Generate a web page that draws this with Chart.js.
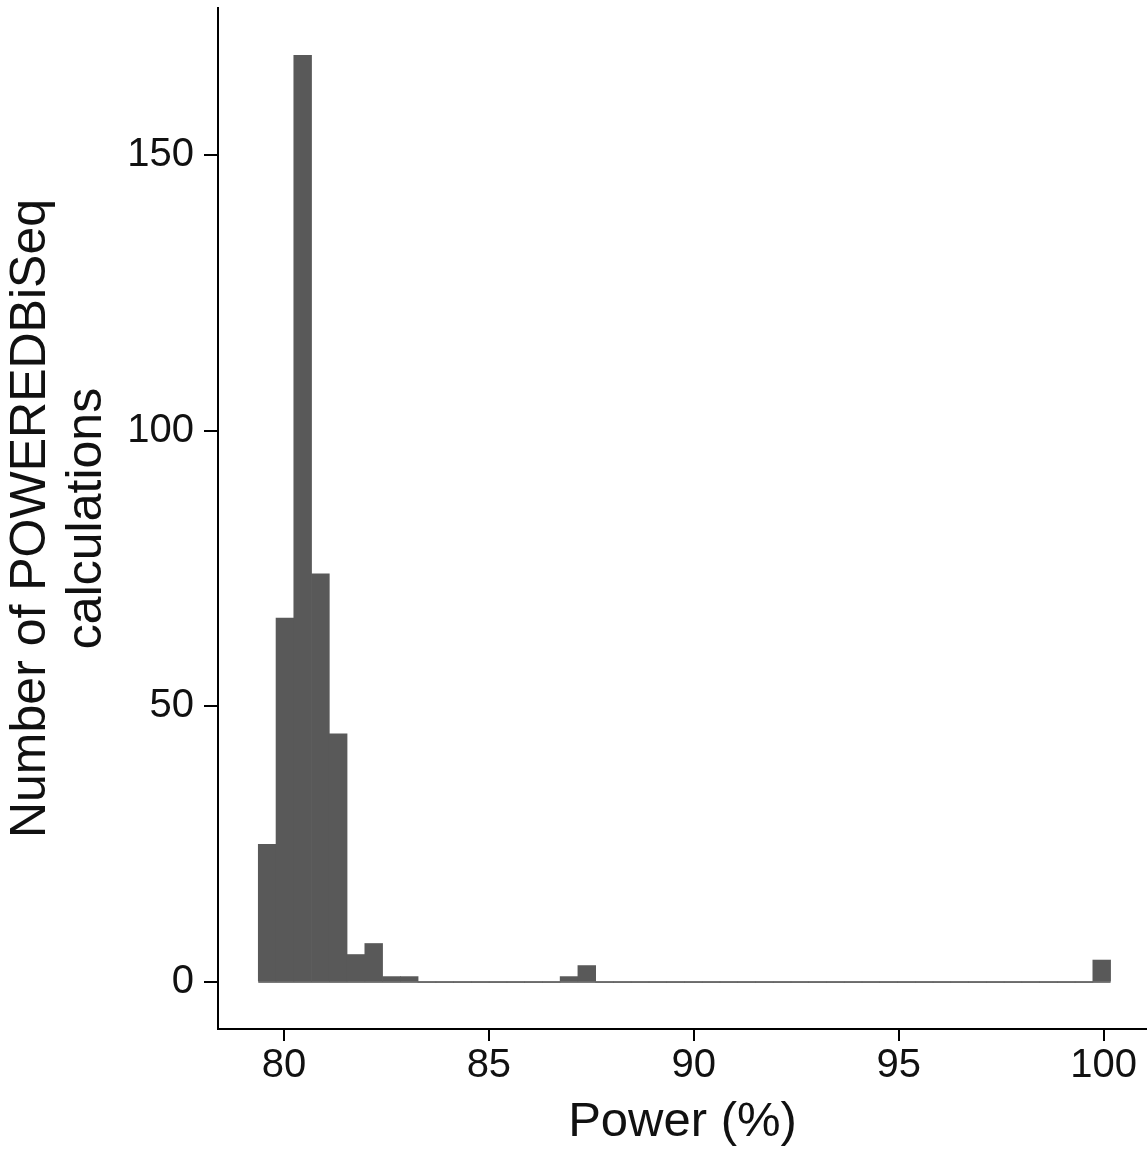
<!DOCTYPE html>
<html>
<head>
<meta charset="utf-8">
<title>Power histogram</title>
<script src="https://cdn.jsdelivr.net/npm/chart.js@4.4.0/dist/chart.umd.min.js"></script>
<style>
  html, body { margin: 0; padding: 0; background: #fff; }
  #wrap { width: 1147px; height: 1151px; }
</style>
</head>
<body>
<div id="wrap"><canvas id="histChart" width="1147" height="1151"></canvas></div>
<script>
// Histogram bins: first edge, bin width, counts per bin
const binStart = 79.373;
const binWidth = 0.4333;
const binCounts = [
    25, 66, 168, 74, 45, 5, 7, 1, 1,
    0, 0, 0, 0, 0, 0, 0, 0,
    1, 3,
    0, 0, 0, 0, 0, 0, 0, 0, 0, 0, 0, 0, 0, 0, 0, 0, 0, 0, 0, 0, 0, 0, 0, 0, 0, 0, 0, 0,
    4
];

// Axis ranges and ticks
const xTicks = [80, 85, 90, 95, 100];
const yTicks = [0, 50, 100, 150];
const xRange = [78.39, 101.06];
const yRange = [-8.5, 176.6];

const xTitle = 'Power (%)';
const yTitle = ['Number of POWEREDBiSeq', 'calculations'];

const fontFamily = '"Liberation Sans", Arial, sans-serif';
const textColor = '#111';

// Bar centres from bin edges
const barData = binCounts.map((c, i) => ({ x: binStart + (i + 0.5) * binWidth, y: c }));
const binEnd = binStart + binCounts.length * binWidth;

let histChart = null;

function createChart() {
    const ctx = document.getElementById('histChart').getContext('2d');
    histChart = new Chart(ctx, {
        type: 'bar',
        data: {
            datasets: [
                {
                    type: 'bar',
                    data: barData,
                    backgroundColor: '#595959',
                    borderWidth: 0,
                    barPercentage: 1,
                    categoryPercentage: 1,
                    order: 1
                },
                {
                    // zero-height bins show as a thin baseline
                    type: 'line',
                    data: [{ x: binStart, y: 0 }, { x: binEnd, y: 0 }],
                    borderColor: '#7a7a7a',
                    borderWidth: 2,
                    pointRadius: 0,
                    order: 2
                }
            ]
        },
        options: {
            responsive: false,
            animation: false,
            layout: { padding: { top: 8, left: 0, right: 0, bottom: 0 } },
            plugins: {
                legend: { display: false },
                tooltip: { enabled: false }
            },
            scales: {
                x: {
                    type: 'linear',
                    min: xRange[0],
                    max: xRange[1],
                    offset: false,
                    afterBuildTicks: (scale) => { scale.ticks = xTicks.map(v => ({ value: v })); },
                    afterFit: (scale) => {
                        scale.height = 122;
                        scale.paddingLeft = 0;
                        scale.paddingRight = 0;
                    },
                    grid: {
                        display: true,
                        offset: false,
                        drawOnChartArea: false,
                        drawTicks: true,
                        tickLength: 12,
                        color: '#000',
                        lineWidth: 2
                    },
                    border: { display: true, color: '#000', width: 2 },
                    ticks: {
                        color: textColor,
                        padding: 1,
                        maxRotation: 0,
                        font: { family: fontFamily, size: 40 },
                        callback: (v) => v
                    },
                    title: {
                        display: true,
                        text: xTitle,
                        color: textColor,
                        padding: { top: 0, bottom: 0 },
                        font: { family: fontFamily, size: 49, lineHeight: 1.15 }
                    }
                },
                y: {
                    type: 'linear',
                    min: yRange[0],
                    max: yRange[1],
                    afterBuildTicks: (scale) => { scale.ticks = yTicks.map(v => ({ value: v })); },
                    afterFit: (scale) => {
                        scale.width = 218;
                        scale.paddingTop = 0;
                        scale.paddingBottom = 0;
                    },
                    grid: {
                        display: true,
                        drawOnChartArea: false,
                        drawTicks: true,
                        tickLength: 14,
                        color: '#000',
                        lineWidth: 2
                    },
                    border: { display: true, color: '#000', width: 2 },
                    ticks: {
                        color: textColor,
                        padding: 10,
                        font: { family: fontFamily, size: 40 },
                        callback: (v) => v
                    },
                    title: {
                        display: true,
                        text: yTitle,
                        color: textColor,
                        padding: { top: 3, bottom: 0 },
                        font: { family: fontFamily, size: 50, lineHeight: 1.12 }
                    }
                }
            }
        }
    });
}

createChart();
</script>
</body>
</html>
